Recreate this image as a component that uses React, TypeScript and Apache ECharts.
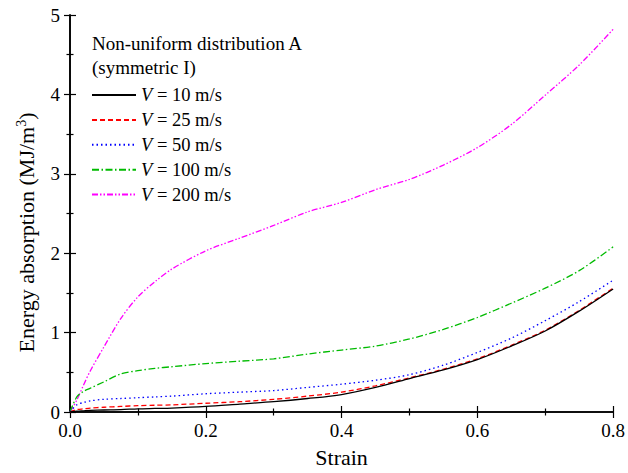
import React, { useEffect, useRef } from "react";
import * as echarts from "echarts";

const strain = [0, 0.01, 0.02, 0.03, 0.05, 0.075, 0.1, 0.125, 0.15, 0.2, 0.25, 0.3, 0.35, 0.4, 0.45, 0.5, 0.55, 0.6, 0.65, 0.7, 0.75, 0.8];
const v10 = [0, 0.01, 0.015, 0.02, 0.025, 0.03, 0.04, 0.045, 0.05, 0.07, 0.1, 0.13, 0.17, 0.22, 0.31, 0.42, 0.53, 0.66, 0.83, 1.02, 1.27, 1.55];
const v25 = [0, 0.03, 0.04, 0.05, 0.06, 0.07, 0.08, 0.085, 0.09, 0.11, 0.13, 0.16, 0.2, 0.25, 0.33, 0.43, 0.54, 0.67, 0.84, 1.03, 1.28, 1.56];
const v50 = [0, 0.09, 0.12, 0.14, 0.16, 0.17, 0.18, 0.19, 0.2, 0.23, 0.25, 0.27, 0.31, 0.35, 0.4, 0.47, 0.59, 0.75, 0.93, 1.15, 1.39, 1.66];
const v100 = [0, 0.19, 0.26, 0.3, 0.38, 0.48, 0.52, 0.55, 0.57, 0.61, 0.64, 0.67, 0.73, 0.78, 0.83, 0.92, 1.04, 1.19, 1.37, 1.56, 1.78, 2.08];
const v200 = [0, 0.15, 0.34, 0.52, 0.82, 1.18, 1.45, 1.64, 1.8, 2.03, 2.19, 2.35, 2.52, 2.64, 2.8, 2.93, 3.11, 3.33, 3.62, 3.99, 4.37, 4.82];

const seriesNames = ["V = 10 m/s", "V = 25 m/s", "V = 50 m/s", "V = 100 m/s", "V = 200 m/s"];
const seriesValues = [v10, v25, v50, v100, v200];
const seriesColors = ["#000000", "#ff0000", "#0000ff", "#00bb00", "#ff00ff"];
const seriesDash: any[] = ["solid", [5, 3], [1.5, 3], [7, 2.5, 1.5, 2.5], [6, 2, 1.5, 2, 1.5, 2]];

const xTicks = { min: 0, max: 0.8, interval: 0.2 };
const yTicks = { min: 0, max: 5, interval: 1 };

const FONT = "Liberation Serif";

export default function App() {
  const ref = useRef<HTMLDivElement>(null);
  useEffect(() => {
    document.body.style.margin = "0";
    const chart = echarts.init(ref.current!, null, { renderer: "svg" });
    const axisCommon = {
      axisLine: { show: true, lineStyle: { color: "#000", width: 1.6 } },
      axisTick: { show: true, inside: true, length: 6, lineStyle: { color: "#000", width: 1.2 } },
      minorTick: { show: true, splitNumber: 2, length: 3.5, lineStyle: { color: "#000", width: 1.2 } },
      splitLine: { show: false },
    };
    const series = seriesNames.map((name, i) => ({
      name,
      type: "line",
      xAxisIndex: 0,
      yAxisIndex: 0,
      data: strain.map((s, j) => [s, seriesValues[i][j]]),
      symbol: "none",
      smooth: 0.3,
      lineStyle: { color: seriesColors[i], width: 1.3, type: seriesDash[i] },
      itemStyle: { color: seriesColors[i] },
      z: 10 - i,
    }));
    chart.setOption({
      animation: false,
      backgroundColor: "#fff",
      textStyle: { fontFamily: FONT },
      grid: { left: 70, right: 12, top: 15, bottom: 58 },
      graphic: [
        { type: "text", x: 92, y: 43, style: { text: "Non-uniform distribution A", fontFamily: FONT, fontSize: 19, fill: "#000", verticalAlign: "middle" } },
        { type: "text", x: 92, y: 67, style: { text: "(symmetric I)", fontFamily: FONT, fontSize: 19, fill: "#000", verticalAlign: "middle" } },
      ],
      legend: {
        orient: "vertical",
        left: 91,
        top: 85,
        padding: 0,
        itemWidth: 44,
        itemHeight: 14,
        itemGap: 4.9,
        data: seriesNames,
        itemStyle: { color: "transparent", borderWidth: 0, opacity: 0 },
        formatter: (n: string) => "{i|V}" + n.slice(1),
        textStyle: {
          fontFamily: FONT,
          fontSize: 18.5,
          lineHeight: 20,
          color: "#000",
          rich: {
            i: { fontFamily: FONT, fontSize: 18.5, lineHeight: 20, fontStyle: "italic", color: "#000" },
          },
        },
      },
      xAxis: [
        {
          type: "value",
          ...xTicks,
          position: "bottom",
          ...axisCommon,
          axisLabel: { fontFamily: FONT, fontSize: 19, color: "#000", margin: 9, formatter: (v: number) => v.toFixed(1) },
          name: "Strain",
          nameLocation: "middle",
          nameGap: 34,
          nameTextStyle: { fontFamily: FONT, fontSize: 22, color: "#000" },
        },
        {
          type: "value",
          ...xTicks,
          position: "top",
          ...axisCommon,
          axisLabel: { show: false },
        },
      ],
      yAxis: [
        {
          type: "value",
          ...yTicks,
          position: "left",
          ...axisCommon,
          axisLabel: { fontFamily: FONT, fontSize: 19, color: "#000", margin: 10 },
          name: "{a|Energy absorption (MJ/m}{s|3}{a|)}",
          nameLocation: "middle",
          nameGap: 31,
          nameTextStyle: {
            color: "#000",
            padding: [0, 38, 0, 0],
            rich: {
              a: { fontFamily: FONT, fontSize: 22, color: "#000" },
              s: { fontFamily: FONT, fontSize: 14, color: "#000", padding: [0, 0, 11, 0] },
            },
          },
        },
        {
          type: "value",
          ...yTicks,
          position: "right",
          ...axisCommon,
          axisLabel: { show: false },
        },
      ],
      series,
    });
    return () => chart.dispose();
  }, []);
  return <div ref={ref} style={{ width: 628, height: 473 }} />;
}
